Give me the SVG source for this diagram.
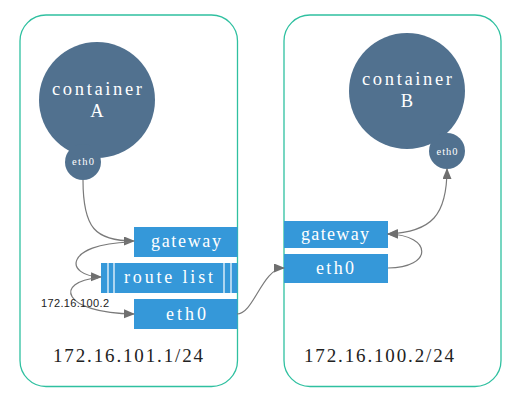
<svg xmlns="http://www.w3.org/2000/svg" width="522" height="401" viewBox="0 0 522 401">
<style>
.host{fill:#fff;stroke:#2fc0a0;stroke-width:1.3}
.ctr{fill:#51718f}
.box{fill:#3598d9}
.wt{fill:#fff;font-family:"Liberation Serif","DejaVu Serif",serif;text-anchor:middle}
.ip{fill:#222;font-family:"Liberation Serif","DejaVu Serif",serif;font-size:19px}
.sm{fill:#222;font-family:"Liberation Sans",Arial,sans-serif;font-size:11px}
.conn path{fill:none;stroke:#7a7a7a;stroke-width:1.2}
.sep{stroke:#fff;stroke-width:1.2}
</style>
<defs>
<marker id="arr" markerUnits="userSpaceOnUse" markerWidth="12" markerHeight="10" refX="10" refY="4.5" orient="auto-start-reverse">
<path d="M0,0 L11,4.5 L0,9 z" fill="#6f6f6f"/>
</marker>
</defs>
<g id="hostA">
<rect class="host" x="20" y="15" width="217.5" height="371.5" rx="26"/>
<text class="ip" x="53" y="362" textLength="150" lengthAdjust="spacing">172.16.101.1/24</text>
</g>
<g id="hostB">
<rect class="host" x="284" y="15" width="217" height="371.5" rx="26"/>
<text class="ip" x="304" y="362" textLength="150" lengthAdjust="spacing">172.16.100.2/24</text>
</g>
<g id="containerA">
<circle class="ctr" cx="97" cy="100" r="58"/>
<circle class="ctr" cx="83" cy="162" r="18"/>
<text class="wt" x="97" y="95" font-size="18.5" textLength="90" lengthAdjust="spacing">container</text>
<text class="wt" x="97" y="117" font-size="18.5">A</text>
<text class="wt" x="83" y="165" font-size="10.5" textLength="22" lengthAdjust="spacing">eth0</text>
</g>
<g id="containerB">
<circle class="ctr" cx="407" cy="91" r="58"/>
<circle class="ctr" cx="447" cy="151" r="18"/>
<text class="wt" x="407" y="85" font-size="18.5" textLength="90" lengthAdjust="spacing">container</text>
<text class="wt" x="407" y="107" font-size="18.5">B</text>
<text class="wt" x="447" y="155" font-size="10.5" textLength="21" lengthAdjust="spacing">eth0</text>
</g>
<g id="gatewayA">
<rect class="box" x="134" y="227" width="103.5" height="30"/>
<text class="wt" x="186" y="247" font-size="18" textLength="70" lengthAdjust="spacing">gateway</text>
</g>
<g id="routeList">
<rect class="box" x="101" y="263" width="136.5" height="30"/>
<line class="sep" x1="108" y1="263" x2="108" y2="293"/>
<line class="sep" x1="114" y1="263" x2="114" y2="293"/>
<line class="sep" x1="224" y1="263" x2="224" y2="293"/>
<line class="sep" x1="231" y1="263" x2="231" y2="293"/>
<text class="wt" x="168.5" y="283" font-size="18" textLength="89" lengthAdjust="spacing">route list</text>
</g>
<g id="eth0A">
<rect class="box" x="134" y="299" width="103.5" height="30"/>
<text class="wt" x="186" y="320" font-size="18" textLength="40" lengthAdjust="spacing">eth0</text>
</g>
<g id="gatewayB">
<rect class="box" x="284" y="221" width="104" height="27"/>
<text class="wt" x="335" y="240" font-size="18" textLength="68" lengthAdjust="spacing">gateway</text>
</g>
<g id="eth0B">
<rect class="box" x="284" y="254" width="104" height="29"/>
<text class="wt" x="335" y="274" font-size="18" textLength="38" lengthAdjust="spacing">eth0</text>
</g>
<g class="conn" id="connectors">
<path d="M83,180 C83,228 95,241 134,241" marker-end="url(#arr)"/>
<path d="M130,242 C64,244 64,276 101,277" marker-end="url(#arr)"/>
<path d="M98,278 C55,281 60,313 134,314" marker-end="url(#arr)"/>
<path d="M237,314 C254,314 262,268 284,268" marker-end="url(#arr)"/>
<path d="M388,268 C433,268 433,235 388,234" marker-end="url(#arr)"/>
<path d="M447,169 C447,215 432,232 388,234" marker-start="url(#arr)" marker-end="url(#arr)"/>
</g>
<text class="sm" x="41" y="307" textLength="68" lengthAdjust="spacing">172.16.100.2</text>
</svg>
